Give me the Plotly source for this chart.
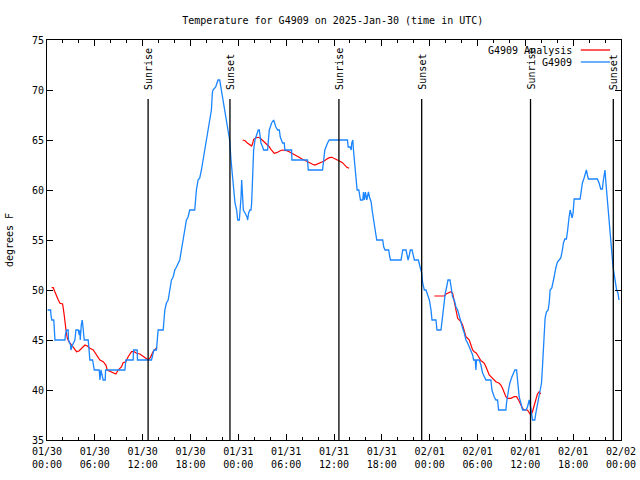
import pandas as pd
import plotly.graph_objects as go

# ---- data (hours since 2025-01-30 00:00 UTC, degrees F) ----
obs_hours = [0.08, 0.45, 0.5, 0.6, 0.85, 0.95, 1.0, 2.25, 2.3, 2.45, 2.65, 2.7, 2.95, 3.0, 3.2, 3.5,
             3.63, 3.92, 4.05, 4.13, 4.17, 4.3, 4.42, 4.55, 4.67, 5.17, 5.3, 5.38, 5.72, 5.93, 6.55,
             6.64, 6.76, 6.9, 7.05, 7.3, 7.35, 7.47, 9.77, 9.89, 10.81, 10.85, 11.31, 11.35, 13.11,
             13.4, 13.73, 13.94, 14.57, 14.78, 14.98, 15.2, 15.4, 15.61, 15.82, 16.03, 16.24, 16.65,
             16.86, 17.07, 17.28, 17.49, 17.7, 17.9, 18.53, 18.66, 18.74, 18.95, 19.16, 19.37, 19.57,
             19.78, 19.99, 20.2, 20.41, 20.62, 20.74, 20.82, 21.16, 21.45, 21.66, 21.87, 22.08, 22.29,
             22.49, 22.7, 22.91, 23.08, 23.25, 23.42, 23.58, 23.79, 23.92, 24.13, 24.25, 24.34, 24.42,
             24.5, 24.63, 24.84, 25.09, 25.17, 25.29, 25.46, 25.59, 25.67, 25.8, 25.92, 26.09, 26.34,
             26.5, 26.63, 26.76, 26.84, 27.05, 27.17, 27.67, 27.76, 27.88, 28.01, 28.17, 28.43, 28.51,
             28.71, 28.93, 29.14, 29.26, 29.43, 29.55, 29.76, 29.84, 30.68, 30.72, 32.68, 32.77, 34.56,
             34.69, 34.85, 35.19, 35.4, 37.69, 37.78, 38.03, 38.15, 38.23, 38.36, 38.44, 38.57, 38.69,
             38.78, 38.9, 39.11, 39.19, 39.32, 39.61, 39.7, 39.82, 39.94, 40.11, 40.32, 40.45, 40.66,
             40.78, 40.95, 41.07, 41.2, 41.36, 42.11, 42.24, 42.41, 42.86, 42.95, 43.08, 44.41, 44.54,
             44.62, 45.04, 45.16, 45.29, 45.45, 45.58, 45.79, 45.96, 46.08, 46.58, 46.71, 46.83, 47.0,
             47.12, 47.33, 47.54, 47.75, 47.96, 48.17, 48.29, 48.79, 48.92, 49.42, 49.55, 49.71, 49.96,
             50.13, 50.3, 50.55, 50.67, 50.88, 51.09, 51.3, 51.51, 51.72, 51.92, 52.13, 52.34, 52.55,
             52.76, 52.97, 53.18, 53.39, 53.51, 53.72, 53.8, 53.88, 54.22, 54.43, 54.64, 55.06, 55.68,
             55.81, 56.1, 56.31, 56.52, 56.64, 57.56, 57.64, 57.89, 58.06, 58.31, 58.52, 58.69, 58.9,
             59.06, 59.23, 59.44, 59.65, 60.07, 60.27, 60.48, 60.69, 60.9, 61.19, 61.32, 61.61, 61.73,
             61.86, 62.03, 62.15, 62.28, 62.36, 62.48, 62.65, 62.86, 62.99, 63.11, 63.32, 63.49, 63.61,
             63.82, 64.03, 64.24, 64.45, 64.65, 64.78, 64.95, 65.15, 65.28, 65.36, 65.49, 65.62, 65.74,
             65.87, 65.99, 66.12, 66.87, 66.95, 67.16, 67.37, 67.49, 67.66, 67.79, 67.91, 69.04, 69.25,
             69.46, 69.66, 69.79, 69.87, 69.99, 70.08, 70.21, 70.37, 70.54, 70.71, 70.87, 71.0, 71.12,
             71.33, 71.45, 71.62, 71.75]
obs_temps = [48, 48, 47.5, 47, 47, 45.5, 45, 45, 45.5, 46, 46, 45, 44.5, 44, 44.5, 45,
             46, 46, 45.5, 46, 45, 46.5, 47, 46, 45, 45, 44, 43, 43, 42, 42,
             41, 42, 41.5, 41, 41, 42, 42, 42, 43, 43, 44, 44, 43, 43,
             44, 44, 46, 46, 48, 48.7, 49, 50, 51, 51.3, 52, 52.3, 53,
             54, 55, 56, 57, 57.3, 58, 58, 59.3, 60, 61, 61.2, 62, 63,
             64, 65, 66, 67, 68, 69.7, 70, 70.3, 71, 71, 70, 69, 68,
             67, 66, 65, 63, 61.3, 60, 58.7, 58, 57, 57, 58, 59.3, 61,
             59.3, 58, 57.7, 57.3, 57, 57.7, 58, 58, 58.7, 61.3, 64, 65, 65.7,
             66, 66, 65.3, 64.7, 64.3, 64, 64, 65, 66, 66.3, 66.7, 67, 66.7,
             66.3, 66, 66, 65.3, 65, 64.7, 64.7, 64, 64, 63, 63, 62, 62,
             63, 64, 64.7, 65, 65, 64.3, 64.3, 64, 64.7, 65, 64, 62.7, 61.7,
             60.7, 60, 60, 59.7, 59, 59, 59.8, 59, 59.8, 59, 59.8, 59.3, 58.8,
             58, 57.2, 56.3, 55.7, 55, 55, 54.3, 54, 54, 53.5, 53, 53, 53.5,
             54, 54, 53.5, 53, 53.5, 54, 54, 53.5, 53, 53, 52.7, 52.2, 51.7,
             50.7, 50, 50, 49.5, 49, 48, 47, 47, 46, 46, 47, 48, 49.7,
             50.3, 51, 51, 50.2, 49.3, 49, 48.3, 48, 47.3, 46.7, 46.2, 45.7, 45,
             44.7, 44.3, 44, 43.5, 43, 43, 42, 43, 43, 42.5, 41.7, 41, 41,
             40, 39.3, 39, 39, 38, 38, 38.7, 40, 40.7, 41.3, 41.7, 42, 42,
             40.7, 39.3, 38.7, 38, 38, 38.3, 39, 38.2, 37, 37, 37.7, 39, 39.7,
             40, 40.7, 42.3, 44, 46, 47.2, 47.8, 48, 48.7, 50, 50.2, 50.7, 51.3,
             52.2, 52.8, 53, 53.2, 54, 54.7, 55.1, 55.1, 55.8, 56.7, 57.3, 58, 57.7,
             57.2, 57.7, 59.1, 59.1, 59.7, 60.7, 61.2, 61.5, 62, 61.5, 61.1, 61.1, 60.7,
             60.1, 60.1, 61, 61.5, 62, 61, 59.7, 58.3, 56.3, 54.7, 53.3, 52.3, 51.7,
             50.7, 50, 49.7, 49]

ana1_hours = [0.58, 0.79, 1.0, 1.21, 1.42, 1.63, 1.96, 2.13, 2.25, 2.38, 2.55, 2.75, 3.09, 3.38,
              3.71, 4.01, 4.34, 4.76, 5.05, 5.38, 5.8, 6.22, 6.64, 7.05, 7.39, 7.55, 8.1, 8.64,
              8.93, 9.35, 9.55, 9.89, 10.18, 10.6, 10.93, 11.23, 11.65, 12.06, 12.4, 12.69, 12.98,
              13.31, 13.65, 13.81]
ana1_temps = [50.23, 50.23, 49.8, 49.3, 49, 48.67, 48.6, 47.67, 46.67, 46, 45.17, 44.83, 44.5, 44.17,
              43.83, 43.9, 44.17, 44.5, 44.4, 44.17, 44, 43.5, 43, 42.83, 42.5, 42, 41.83, 41.6,
              42, 42.33, 42.73, 42.83, 43.33, 43.83, 43.83, 43.67, 43.6, 43.4, 43.17, 43, 43.27,
              43.83, 44.17, 44.27]
ana2_hours = [24.54, 24.84, 25.09, 25.38, 25.67, 25.8, 25.92, 26.21, 26.5, 26.76, 26.97, 27.26, 27.59,
              27.88, 28.09, 28.3, 28.51, 28.8, 29.01, 29.26, 29.55, 29.84, 30.09, 30.38, 30.59, 30.93,
              31.22, 31.64, 32.06, 32.47, 32.68, 33.02, 33.31, 33.6, 33.93, 34.27, 34.56, 34.77, 35.06,
              35.4, 35.73, 36.02, 36.35, 36.65, 36.86, 37.06, 37.35, 37.61, 37.9]
ana2_temps = [65, 64.93, 64.73, 64.6, 64.4, 64.67, 65.07, 65.23, 65.27, 65.17, 65, 64.83, 64.6,
              64.33, 64.07, 63.83, 63.67, 63.73, 63.83, 63.93, 64, 64, 63.93, 63.83, 63.73, 63.53,
              63.4, 63.27, 63.07, 62.93, 62.83, 62.67, 62.57, 62.5, 62.6, 62.77, 62.83, 62.9, 63.07,
              63.23, 63.27, 63.17, 63.07, 62.93, 62.83, 62.73, 62.5, 62.27, 62.17]
ana3_hours = [48.59, 49.84, 50.05, 50.38, 50.67, 50.88, 51.09, 51.3, 51.51, 51.72, 51.92, 52.13, 52.26,
              52.34, 52.55, 52.76, 52.97, 53.18, 53.39, 53.59, 53.8, 54.01, 54.22, 54.43, 54.64, 54.85,
              55.06, 55.27, 55.47, 55.68, 55.89, 56.1, 56.31, 56.72, 56.93, 57.14, 57.35, 57.56, 57.77,
              58.19, 58.6, 58.9, 59.15, 59.44, 59.65, 59.86, 60.27, 60.48, 60.69, 60.89, 61.11, 61.32,
              61.52, 61.73, 61.94]
ana3_temps = [49.4, 49.4, 49.6, 49.73, 49.83, 49.67, 48.83, 48, 47.17, 47, 46.83, 46.5, 46.17,
              45.83, 45.33, 45.17, 45, 44.5, 44, 43.83, 43.73, 43.5, 43.17, 42.93, 42.83, 42.67,
              42.33, 41.83, 41.5, 41.33, 41.17, 41, 40.83, 40.67, 40.5, 40.17, 39.67, 39.33, 39.17,
              39.17, 39.33, 39.33, 39, 38.5, 38.17, 38, 38, 37.73, 37.5, 37.83, 38.5, 39,
              39.6, 39.83, 39.6]

sun_times = ["2025-01-30 12:41", "2025-01-30 22:57", "2025-01-31 12:37",
             "2025-01-31 23:00", "2025-02-01 12:39", "2025-02-01 23:02"]
sun_labels = ["Sunrise", "Sunset", "Sunrise", "Sunset", "Sunrise", "Sunset"]

tick_times = pd.date_range("2025-01-30 00:00", "2025-02-02 00:00", freq="6h")
tick_labels = [t.strftime("%m/%d") + "<br>" + t.strftime("%H:%M") for t in tick_times]
y_ticks = [35, 40, 45, 50, 55, 60, 65, 70, 75]

# ---- build ----
base = pd.Timestamp("2025-01-30 00:00")
def to_time(hours):
    return [base + pd.Timedelta(hours=h) for h in hours]

ana_x = to_time(ana1_hours) + [None] + to_time(ana2_hours) + [None] + to_time(ana3_hours)
ana_y = ana1_temps + [None] + ana2_temps + [None] + ana3_temps

FONT = "DejaVu Sans Mono"
RED = "#ff0000"
BLUE = "#1a85ff"

fig = go.Figure()
fig.add_trace(go.Scatter(x=ana_x, y=ana_y, mode="lines", name="G4909 Analysis",
                         line=dict(color=RED, width=1.2), connectgaps=False))
fig.add_trace(go.Scatter(x=to_time(obs_hours), y=obs_temps, mode="lines", name="G4909",
                         line=dict(color=BLUE, width=1.3)))

for t, lab in zip(sun_times, sun_labels):
    fig.add_shape(type="line", xref="x", yref="paper", x0=t, x1=t, y0=0, y1=0.8525,
                  line=dict(color="black", width=1.3))
    fig.add_annotation(x=t, xref="x", y=0.87, yref="paper", text=lab, textangle=-90,
                       showarrow=False, xanchor="center", yanchor="bottom",
                       font=dict(family=FONT, size=10, color="black"))

# legend (gnuplot style: text left, sample right)
legend_rows = [("G4909 Analysis", RED, 0.975), ("G4909", BLUE, 0.945)]
for txt, col, yy in legend_rows:
    fig.add_annotation(x=0.918, xref="paper", y=yy, yref="paper", text=txt, showarrow=False,
                       xanchor="right", yanchor="middle", font=dict(family=FONT, size=10, color="black"))
    fig.add_shape(type="line", xref="paper", yref="paper", x0=0.930, x1=0.981, y0=yy, y1=yy,
                  line=dict(color=col, width=1.3))

fig.add_annotation(x=-0.066, xref="paper", y=0.5, yref="paper", text="degrees F", textangle=-90,
                   showarrow=False, xanchor="center", yanchor="middle",
                   font=dict(family=FONT, size=10, color="black"))

fig.update_layout(
    width=640, height=480,
    margin=dict(l=47, r=19, t=40, b=40, autoexpand=False),
    paper_bgcolor="white", plot_bgcolor="white",
    showlegend=False,
    title=dict(text="Temperature for G4909 on 2025-Jan-30 (time in UTC)", x=0.52, xanchor="center",
               y=0.958, yanchor="middle", font=dict(family=FONT, size=10, color="black")),
    font=dict(family=FONT, size=10, color="black"),
)
fig.update_xaxes(type="date", range=["2025-01-30 00:00", "2025-02-02 00:00"],
                 tickmode="array", tickvals=tick_times, ticktext=tick_labels,
                 ticks="inside", ticklen=6, tickcolor="black", showline=True, linecolor="black",
                 linewidth=1, mirror="ticks", showgrid=False, zeroline=False, automargin=False,
                 ticklabelstandoff=2,
                 minor=dict(ticks="inside", ticklen=3, dtick=2 * 3600 * 1000, tickcolor="black", showgrid=False),
                 tickfont=dict(family=FONT, size=10, color="black"))
fig.update_yaxes(range=[35, 75], tickmode="array", tickvals=y_ticks,
                 ticks="inside", ticklen=6, tickcolor="black", showline=True, linecolor="black",
                 linewidth=1, mirror="ticks", showgrid=False, zeroline=False, automargin=False,
                 tickfont=dict(family=FONT, size=10, color="black"))

fig.write_html("out.html", config={"displayModeBar": False},
               post_script="document.body.style.margin='0';document.body.style.overflow='hidden';")
